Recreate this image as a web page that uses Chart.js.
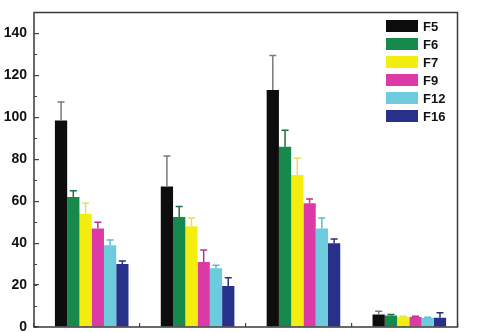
<!DOCTYPE html>
<html>
<head>
<meta charset="utf-8">
<script src="https://cdn.jsdelivr.net/npm/chart.js@4.4.1/dist/chart.umd.min.js"></script>
<style>
    body { margin: 0; background: #fff; }
    canvas { display: block; }
</style>
</head>
<body>
<canvas id="grafico" width="477" height="332"></canvas>
<script>
// posicoes dos grupos no eixo x (sem rotulos no original)
const grupos = [1, 2, 3, 4]
const series = ["F5", "F6", "F7", "F9", "F12", "F16"]

// valores das barras, um array por serie
const valoresF5 = [98.5, 67, 113, 6]
const valoresF6 = [62, 52.5, 86, 5.5]
const valoresF7 = [54, 48, 72.5, 4.8]
const valoresF9 = [47, 31, 59, 4.8]
const valoresF12 = [39, 28, 47, 4.3]
const valoresF16 = [30, 19.5, 40, 4.4]

// barras de erro (so para cima)
const erroF5 = [8.8, 14.6, 16.5, 1.5]
const erroF6 = [3, 5, 7.8, 0.5]
const erroF7 = [5, 4, 8, 0.3]
const erroF9 = [3, 5.7, 2, 0.3]
const erroF12 = [2.5, 1.5, 5, 0.3]
const erroF16 = [1.5, 4, 2, 2.4]

// ticks do eixo y
const ticksY = [0, 20, 40, 60, 80, 100, 120, 140]

const valores = [valoresF5, valoresF6, valoresF7, valoresF9, valoresF12, valoresF16]
const erros = [erroF5, erroF6, erroF7, erroF9, erroF12, erroF16]
const cores = ["#0d0d0d", "#168a4c", "#f4ee10", "#dc3aa6", "#6ccbdc", "#283189"]
const coresErro = ["#7a7a7a", "#1d6e40", "#e6df5a", "#b8338c", "#5cbccc", "#2a3175"]

// as barras ficam um pouco a direita dos ticks no original
const deslocamento = 0.045

const datasets = series.map((nome, i) => ({
    label: nome,
    data: grupos.map((g, j) => ({ x: g + deslocamento, y: valores[i][j] })),
    backgroundColor: cores[i],
    borderWidth: 0,
    barPercentage: 1,
    categoryPercentage: 0.695,
    erros: erros[i],
    corErro: coresErro[i]
}))

const pluginErros = {
    id: "erros",
    afterDatasetsDraw(chart) {
        const ctx = chart.ctx
        const escalaY = chart.scales.y
        chart.data.datasets.forEach((ds, i) => {
            const meta = chart.getDatasetMeta(i)
            meta.data.forEach((barra, j) => {
                const topo = escalaY.getPixelForValue(ds.data[j].y + ds.erros[j])
                ctx.save()
                ctx.strokeStyle = ds.corErro
                ctx.lineWidth = 1.5
                ctx.beginPath()
                ctx.moveTo(barra.x, barra.y)
                ctx.lineTo(barra.x, topo)
                ctx.moveTo(barra.x - 3.5, topo)
                ctx.lineTo(barra.x + 3.5, topo)
                ctx.stroke()
                ctx.restore()
            })
        })
    }
}

const pluginMoldura = {
    id: "moldura",
    afterDraw(chart) {
        const { ctx, chartArea } = chart
        ctx.save()
        ctx.strokeStyle = "#3a3a3a"
        ctx.lineWidth = 1.5
        ctx.strokeRect(chartArea.left, chartArea.top, chartArea.right - chartArea.left, chartArea.bottom - chartArea.top)

        // legenda dentro da area do grafico
        ctx.font = "bold 13px 'Liberation Sans', Arial, sans-serif"
        ctx.textBaseline = "middle"
        ctx.textAlign = "left"
        chart.data.datasets.forEach((ds, i) => {
            const y = chartArea.top + 13.5 + i * 18
            const x = chartArea.right - 71.5
            ctx.fillStyle = ds.backgroundColor
            ctx.fillRect(x, y - 6, 32, 12)
            ctx.fillStyle = "#111"
            ctx.fillText(ds.label, x + 37, y + 1)
        })
        ctx.restore()
    }
}

const myChart = new Chart(document.getElementById("grafico"), {
    type: "bar",
    data: { datasets: datasets },
    options: {
        responsive: false,
        animation: false,
        devicePixelRatio: 1,
        layout: { padding: { left: 0, top: 12.5, right: 19.5, bottom: 5 } },
        plugins: {
            legend: { display: false },
            tooltip: { enabled: false }
        },
        scales: {
            x: {
                type: "linear",
                min: 0.5,
                max: 4.5,
                offset: false,
                border: { display: false },
                grid: { display: false, offset: false },
                afterBuildTicks: scale => { scale.ticks = grupos.map(v => ({ value: v })) },
                ticks: { display: false },
                afterFit: scale => { scale.height = 0 }
            },
            xMenor: {
                type: "linear",
                position: "bottom",
                min: 0.5,
                max: 4.5,
                offset: false,
                z: 1,
                border: { display: false },
                grid: { drawOnChartArea: false, offset: false, tickLength: -4, color: "#444", lineWidth: 1.2 },
                ticks: { display: false, stepSize: 0.5 },
                afterFit: scale => { scale.height = 0 }
            },
            y: {
                min: 0,
                max: 150,
                weight: 1,
                border: { display: false },
                grid: { drawOnChartArea: false, tickLength: -5, color: "#444", lineWidth: 1.2 },
                afterBuildTicks: scale => { scale.ticks = ticksY.map(v => ({ value: v })) },
                ticks: {
                    padding: 12,
                    color: "#111",
                    font: { family: "'Liberation Sans', Arial, sans-serif", size: 14, weight: "bold" }
                },
                afterFit: scale => {
                    scale.width = 34
                    scale.paddingTop = 0
                    scale.paddingBottom = 0
                }
            },
            yMenor: {
                position: "left",
                min: 0,
                max: 150,
                weight: 0,
                border: { display: false },
                grid: { drawOnChartArea: false, tickLength: -3, color: "#444", lineWidth: 1 },
                ticks: { display: false, stepSize: 10 },
                afterFit: scale => {
                    scale.width = 0
                    scale.paddingTop = 0
                    scale.paddingBottom = 0
                }
            }
        }
    },
    plugins: [pluginErros, pluginMoldura]
})
</script>
</body>
</html>
